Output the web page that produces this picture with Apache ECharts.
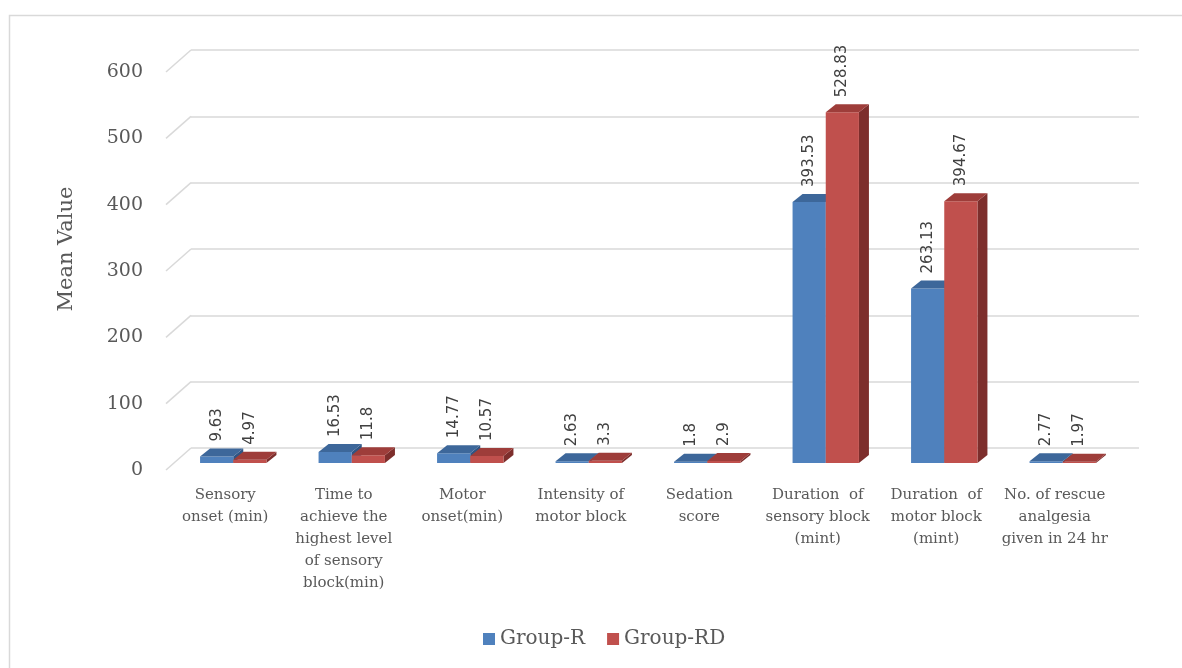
<!DOCTYPE html>
<html>
<head>
<meta charset="utf-8">
<title>Mean Value</title>
<script src="https://cdn.jsdelivr.net/npm/echarts@6/dist/echarts.min.js"></script>
<style>
  html, body { margin: 0; padding: 0; background: #fff; }
</style>
</head>
<body>
<div id="main" style="width:1182px; height:668px"></div>
<script>
// chart data
var categories = [
  'Sensory\nonset (min)',
  'Time to\nachieve the\nhighest level\nof sensory\nblock(min)',
  'Motor\nonset(min)',
  'Intensity of\nmotor block',
  'Sedation\nscore',
  'Duration  of\nsensory block\n(mint)',
  'Duration  of\nmotor block\n(mint)',
  'No. of rescue\nanalgesia\ngiven in 24 hr'
]
var groupR = [9.63, 16.53, 14.77, 2.63, 1.8, 393.53, 263.13, 2.77]
var groupRD = [4.97, 11.8, 10.57, 3.3, 2.9, 528.83, 394.67, 1.97]
var yTicks = [0, 100, 200, 300, 400, 500, 600]
var seriesNames = ['Group-R', 'Group-RD']

// 3d look
var WALL_DX = 25, WALL_DY = 22   // front edge -> back wall
var BAR_DX = 8, BAR_DY = 7       // front edge -> bar front plane
var DEPTH_X = 10, DEPTH_Y = 8    // bar depth
var colors = [
  {front: '#4f81bd', top: '#3d679a', side: '#2f5584'},
  {front: '#c0504d', top: '#9e3d3a', side: '#7d2e2c'}
]

var myChart = echarts.init(document.getElementById('main'))

function makeBoxRender(g) {
  return function (params, api) {
    var idx = api.value(0), v = api.value(1)
    var base = api.coord([idx, 0])
    var top = api.coord([idx, v])
    var bw = api.size([1, 0])[0] * 0.28
    var x0 = base[0] + (g === 0 ? -bw : 0) + BAR_DX
    var yb = base[1] - BAR_DY
    var yt = top[1] - BAR_DY
    var c = colors[g]
    return {
      type: 'group',
      children: [
        {type: 'polygon', shape: {points: [[x0 + bw, yt], [x0 + bw + DEPTH_X, yt - DEPTH_Y], [x0 + bw + DEPTH_X, yb - DEPTH_Y], [x0 + bw, yb]]},
          style: {fill: c.side}},
        {type: 'rect', shape: {x: x0, y: yt, width: bw, height: yb - yt}, style: {fill: c.front}},
        {type: 'polygon', shape: {points: [[x0, yt], [x0 + bw, yt], [x0 + bw + DEPTH_X, yt - DEPTH_Y], [x0 + DEPTH_X, yt - DEPTH_Y]]},
          style: {fill: c.top}},
        {type: 'text', x: x0 + bw / 2, y: yt - 15, rotation: Math.PI / 2,
          style: {text: String(v), fill: '#404040', font: '15px "DejaVu Sans"', align: 'left', verticalAlign: 'middle'}}
      ]
    }
  }
}

function renderDiag(params, api) {
  var y = api.coord([0, api.value(0)])[1]
  var x = params.coordSys.x
  return {
    type: 'line',
    shape: {x1: x, y1: y, x2: x + WALL_DX, y2: y - WALL_DY},
    style: {stroke: '#d9d9d9', lineWidth: 1.5}
  }
}

var option = {
  animation: false,
  backgroundColor: '#fff',
  graphic: [{
    type: 'rect', left: 7, top: 13, z: -10,
    shape: {width: 1200, height: 700},
    style: {fill: 'none', stroke: '#d9d9d9', lineWidth: 1.5}
  }],
  legend: {
    left: 478, top: 624,
    itemWidth: 12, itemHeight: 12, itemGap: 22,
    icon: 'rect',
    textStyle: {fontFamily: 'DejaVu Serif', fontSize: 20, color: '#595959'},
    data: seriesNames
  },
  grid: [
    {left: 166, right: 68, top: 72, bottom: 198},
    {left: 191, right: 43, top: 50, bottom: 220}
  ],
  xAxis: [
    {
      type: 'category', gridIndex: 0, data: categories,
      axisLine: {show: false}, axisTick: {show: false},
      axisLabel: {interval: 0, margin: 14, fontFamily: 'DejaVu Serif', fontSize: 15, lineHeight: 22, color: '#595959'}
    },
    {type: 'category', gridIndex: 1, data: categories, show: false}
  ],
  yAxis: [
    {
      type: 'value', gridIndex: 0, min: 0, max: 600, interval: 100,
      axisLine: {show: false}, axisTick: {show: false}, splitLine: {show: false},
      axisLabel: {margin: 23, fontFamily: 'DejaVu Serif', fontSize: 19, color: '#595959'}
    },
    {
      type: 'value', gridIndex: 1, min: 0, max: 600, interval: 100,
      name: 'Mean Value', nameLocation: 'middle', nameGap: 114,
      nameTextStyle: {fontFamily: 'DejaVu Serif', fontSize: 21, color: '#595959'},
      axisLine: {show: false}, axisTick: {show: false}, axisLabel: {show: false},
      splitLine: {lineStyle: {color: '#d9d9d9', width: 1.5}}
    }
  ],
  series: [
    {
      type: 'custom', name: 'walls', xAxisIndex: 0, yAxisIndex: 0, z: 1, silent: true,
      renderItem: renderDiag,
      data: yTicks.map(function (t) { return [t] }),
      encode: {y: 0}
    },
    {
      type: 'custom', name: seriesNames[0], xAxisIndex: 0, yAxisIndex: 0, z: 3,
      itemStyle: {color: colors[0].front},
      renderItem: makeBoxRender(0),
      data: groupR.map(function (v, i) { return [i, v] }),
      encode: {x: 0, y: 1}, clip: false
    },
    {
      type: 'custom', name: seriesNames[1], xAxisIndex: 0, yAxisIndex: 0, z: 4,
      itemStyle: {color: colors[1].front},
      renderItem: makeBoxRender(1),
      data: groupRD.map(function (v, i) { return [i, v] }),
      encode: {x: 0, y: 1}, clip: false
    }
  ]
}

myChart.setOption(option)
</script>
</body>
</html>
